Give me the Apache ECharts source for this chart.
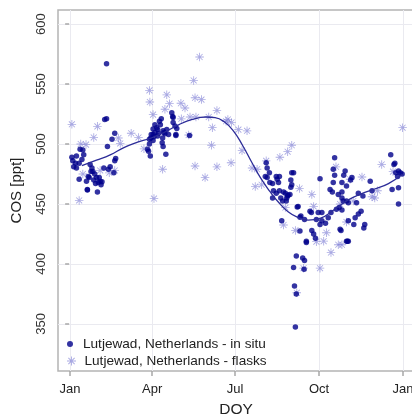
<!DOCTYPE html>
<html>
<head>
<meta charset="utf-8">
<script src="https://cdn.jsdelivr.net/npm/echarts@6/dist/echarts.min.js"></script>
<style>
  html, body { margin: 0; padding: 0; background: #fff; }
  #chart { width: 412px; height: 416px; }
</style>
</head>
<body>
<div id="chart"></div>
<script>
// 坐标轴刻度
var monthDoy = [1, 91, 182, 274, 366];
var monthNames = ['Jan', 'Apr', 'Jul', 'Oct', 'Jan'];
var cosTicks = [350, 400, 450, 500, 550, 600];

// in situ 测量 (DOY, COS)
var insituDoy = [3, 8, 4, 5, 8, 11, 12, 15, 16, 14, 11, 19, 21, 22, 20, 25, 26, 28, 30, 32, 34, 36, 31, 38, 43, 45, 49, 50, 51, 47, 50, 42, 39, 41, 41, 23, 7, 24, 27, 33, 35, 29, 20,
  89, 87, 88, 89.5, 92, 93, 94, 96, 97, 98, 100, 101, 103, 105, 102.5, 102, 103, 106, 112.5, 113.5, 114, 116, 117, 109, 107, 97, 92, 99, 94, 92, 88, 86, 90, 114, 118, 117, 104, 132,
  216, 217, 219.5, 215, 217, 220, 223, 227, 228, 230.5, 229.5, 224, 223, 227, 230.5, 235, 232, 234, 238.5, 239.5, 238, 244, 243, 243, 242, 250, 253, 233, 246, 244, 237, 240, 251, 264, 265.5, 273, 277, 271, 277, 254, 258, 253, 266, 268, 270, 260, 275, 281, 284, 287, 249, 256, 258, 246, 257.5, 247, 249, 248, 304, 260,
  291, 289.5, 291, 289.5, 275, 286, 288.5, 299, 299, 295, 293, 296, 304, 297, 306, 302.5, 301, 304, 310, 308.5, 299, 306, 299, 317, 322, 315, 320, 317, 313.5, 312, 306, 324, 323, 305, 298, 330, 332, 300.5,
  352.5, 357, 356, 361, 363, 365, 360, 358, 354, 361, 361];
var insituCos = [489, 490, 486, 481, 480, 484, 495.6, 495, 491, 487, 470.6, 469, 473, 472, 462, 480, 477, 475, 472, 468, 469, 468.6, 460, 480, 479, 481, 476, 486, 488, 504, 509, 498, 520.5, 521, 567, 483, 484, 477, 470, 472, 466, 467, 461.7,
  490, 494, 500, 505, 508, 506, 509.5, 513.6, 512, 509, 516, 521, 511, 508.6, 505, 501, 498, 491.4, 526, 523, 518, 515, 508, 508, 512, 506.7, 503, 519, 516, 512.6, 504, 495.6, 508, 522, 513, 507, 509.5, 507,
  484.4, 480, 476, 473, 472, 468, 467, 473, 470.6, 473, 468, 461, 455, 459, 461, 460, 455, 452.5, 455, 456.7, 452.5, 476, 470, 464, 458, 447.5, 439, 436, 476, 466, 459, 457.5, 448, 444, 443, 443, 443, 437, 436, 440, 437, 427.5, 428, 425, 421.5, 418, 433, 434, 438.6, 443, 406.7, 405, 403, 397, 395.6, 381.7, 375, 347.5, 419, 419,
  488.6, 479, 474, 468, 471, 462, 460, 468, 460, 458, 445.6, 447, 452.5, 429, 419, 477.5, 474, 465, 472, 470, 455, 451, 445, 459, 456.7, 451, 444, 441.6, 438.6, 433, 436, 433, 430, 419, 428, 469, 461, 452.5,
  491, 484, 483, 477.5, 476, 475, 473, 476, 462, 463.6, 450];

// flask 采样 (DOY, COS)
var flaskDoy = [3, 11, 12.7, 18.5, 15, 27, 31, 34, 44, 50, 54, 56, 68, 76, 82, 88, 88.5, 92, 93, 102.5, 107, 105, 110, 122.5, 127, 123, 132.5, 139, 136.5, 138, 143, 145, 131, 138, 149, 153, 157, 156, 162, 162, 172, 174, 178, 177.5, 185.5, 189.5, 195, 200.5, 206, 204, 211, 216, 231, 239.5, 244, 252.5, 237, 235, 266, 268, 248, 282, 279, 271, 295, 287, 257, 275, 249.5, 304, 292.5, 297, 365.5, 342.6, 355, 321, 308, 332, 335, 338, 311.5, 299];
var flaskCos = [516.4, 453, 500, 499.5, 475, 505.5, 514.7, 478, 476, 478, 505, 500.5, 509, 505.5, 496, 544.7, 535, 524.5, 454.5, 479, 541, 529, 533.6, 534, 530, 521, 522.5, 522.5, 553, 538.6, 572.5, 537, 507.5, 481.7, 472, 522.5, 513.6, 499, 528, 481, 519, 520.5, 518, 484.4, 512, 494.5, 511, 480, 479, 464.5, 466, 486, 489, 493.6, 499, 463, 447, 432.5, 458, 448, 428, 426, 419, 418.6, 416, 409.5, 396.5, 396.5, 376, 435, 481, 450, 513.6, 483, 477, 472.5, 470.6, 456, 455, 461, 452.5, 416];

// 拟合曲线
var fitDoy = [14, 30, 45, 60, 75, 90, 105, 120, 135, 150, 160, 170, 180, 190, 200, 210, 220, 230, 240, 250, 262, 275, 290, 305, 320, 335, 350, 365];
var fitCos = [482, 486.5, 491, 497, 501.5, 505, 510, 516, 520.5, 522.5, 522, 518.5, 511, 499, 485, 471.5, 460.5, 451, 443.5, 439, 436.5, 438, 445, 453, 458.5, 462.5, 467, 474.5];

function zip (xs, ys) {
  var out = [];
  for (var i = 0; i < xs.length; i++) {
    out.push([xs[i], ys[i]]);
  }
  return out;
}

var starPath = 'path://M9 0L11 0L11 20L9 20Z M0 9L20 9L20 11L0 11Z M2.3 3.7L3.7 2.3L17.7 16.3L16.3 17.7Z M16.3 2.3L17.7 3.7L3.7 17.7L2.3 16.3Z';
var font = "'Liberation Sans', Arial, sans-serif";
var nameInsitu = 'Lutjewad, Netherlands - in situ';
var nameFlask = 'Lutjewad, Netherlands - flasks';

var gridLines = [];
monthDoy.forEach(function (d) { gridLines.push({ xAxis: d }); });
cosTicks.forEach(function (c) { gridLines.push({ yAxis: c }); });

var myChart = echarts.init(document.getElementById('chart'));

var option = {
  animation: false,
  textStyle: { fontFamily: font },
  grid: {
    left: 58, right: -2, top: 10, bottom: 45,
    outerBoundsMode: 'none',
    show: true,
    borderColor: '#b4b4b4',
    borderWidth: 1.5
  },
  legend: [{
    data: [{ name: nameInsitu, icon: 'circle' }],
    left: 62, top: 332,
    itemWidth: 16, itemHeight: 6,
    textStyle: { fontSize: 13.6, color: '#222', fontFamily: font }
  }, {
    data: [{ name: nameFlask, icon: starPath }],
    left: 62, top: 349,
    itemWidth: 16, itemHeight: 9,
    textStyle: { fontSize: 13.6, color: '#222', fontFamily: font }
  }],
  xAxis: {
    type: 'value',
    min: -12.2, max: 378,
    name: 'DOY',
    nameLocation: 'middle',
    nameGap: 31,
    nameTextStyle: { fontSize: 15.5, color: '#222' },
    axisLine: { show: false },
    axisTick: {
      show: true, length: 5, customValues: monthDoy,
      lineStyle: { color: '#a8a8a8', width: 1.5 }
    },
    axisLabel: {
      customValues: monthDoy,
      fontSize: 13, color: '#222', margin: 12,
      formatter: function (v) {
        var i = monthDoy.indexOf(v);
        return i >= 0 ? monthNames[i] : '';
      }
    },
    splitLine: { show: false }
  },
  yAxis: {
    type: 'value',
    min: 310.8, max: 611.7,
    name: 'COS [ppt]',
    nameLocation: 'middle',
    nameGap: 34,
    nameTextStyle: { fontSize: 15, color: '#222' },
    axisLine: { show: false },
    axisTick: {
      show: true, length: 4, customValues: cosTicks,
      lineStyle: { color: '#a8a8a8', width: 1.5 }
    },
    axisLabel: {
      customValues: cosTicks,
      rotate: 90,
      fontSize: 13, color: '#333', margin: 10
    },
    splitLine: { show: false }
  },
  series: [{
    name: 'grid',
    type: 'line',
    data: [],
    silent: true,
    z: 0,
    markLine: {
      silent: true,
      z: 0,
      zlevel: 0,
      symbol: 'none',
      label: { show: false },
      lineStyle: { color: '#eaeaf0', width: 1, type: 'solid' },
      data: gridLines
    }
  }, {
    name: nameFlask,
    type: 'scatter',
    symbol: starPath,
    symbolSize: 8.5,
    z: 3,
    itemStyle: { color: '#6464cc', opacity: 0.55 },
    data: zip(flaskDoy, flaskCos)
  }, {
    name: nameInsitu,
    type: 'scatter',
    symbol: 'circle',
    symbolSize: 5.5,
    z: 4,
    itemStyle: { color: '#00008b' },
    data: zip(insituDoy, insituCos)
  }, {
    name: 'fit',
    type: 'line',
    smooth: true,
    showSymbol: false,
    z: 5,
    lineStyle: { color: '#2c2c98', width: 1.3 },
    data: zip(fitDoy, fitCos)
  }]
};

myChart.setOption(option);
window.addEventListener('resize', function () {
  myChart.resize();
});
</script>
</body>
</html>
